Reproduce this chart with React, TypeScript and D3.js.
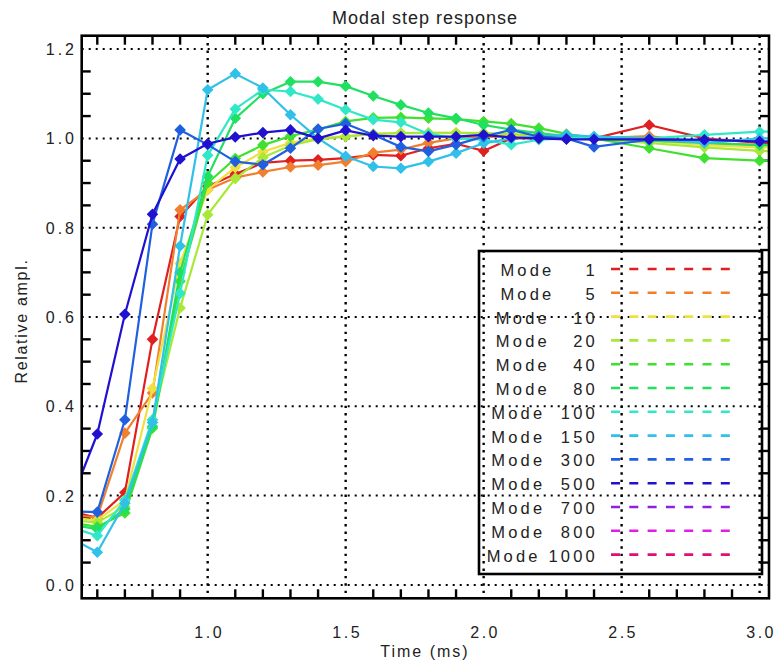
import React from "react";
import * as d3 from "d3";

// ---------- data ----------
const times = [0.5, 0.6, 0.7, 0.8, 0.9, 1.0, 1.1, 1.2, 1.3, 1.4, 1.5, 1.6, 1.7, 1.8, 1.9, 2.0, 2.1, 2.2, 2.3, 2.4, 2.6, 2.8, 3.0, 3.2];

const modeNames = [1, 5, 10, 20, 40, 80, 100, 150, 300, 500, 700, 800, 1000];
const modeColors = ["#e02020", "#f08030", "#f0e040", "#a8e838", "#40e030", "#20e060", "#30e8c8", "#30c0e8", "#2060e0", "#2010d0", "#9020e0", "#e020e0", "#e01070"];

const mode1 = [0.165, 0.15, 0.207, 0.55, 0.825, 0.892, 0.92, 0.945, 0.95, 0.952, 0.956, 0.963, 0.961, 0.978, 0.988, 0.972, 1.0, 1.0, 1.002, 1.0, 1.03, 1.0, 0.99, 0.99];
const mode5 = [0.155, 0.152, 0.34, 0.43, 0.84, 0.885, 0.912, 0.925, 0.936, 0.94, 0.948, 0.968, 0.975, 0.99, 1.0, 1.003, 1.005, 1.005, 1.0, 1.0, 1.005, 0.99, 0.985, 0.985];
const mode10 = [0.15, 0.145, 0.19, 0.44, 0.72, 0.885, 0.935, 0.97, 0.99, 1.0, 1.005, 1.01, 1.012, 1.013, 1.013, 1.012, 1.008, 1.005, 1.0, 1.0, 0.995, 0.985, 0.98, 0.98];
const mode20 = [0.145, 0.14, 0.175, 0.37, 0.62, 0.829, 0.91, 0.957, 0.984, 0.998, 1.004, 1.01, 1.012, 1.012, 1.012, 1.012, 1.01, 1.005, 1.0, 0.998, 0.99, 0.98, 0.972, 0.97];
const mode40 = [0.14, 0.13, 0.161, 0.351, 0.68, 0.9, 0.955, 0.985, 1.005, 1.02, 1.038, 1.046, 1.047, 1.045, 1.043, 1.038, 1.033, 1.023, 1.01, 1.0, 0.978, 0.956, 0.95, 0.948];
const mode80 = [0.135, 0.125, 0.17, 0.355, 0.7, 0.915, 1.045, 1.1, 1.127, 1.127, 1.117, 1.095, 1.075, 1.057, 1.045, 1.03, 1.02, 1.012, 1.005, 1.0, 0.995, 0.99, 0.985, 0.985];
const mode100 = [0.13, 0.11, 0.19, 0.37, 0.653, 0.962, 1.066, 1.109, 1.105, 1.088, 1.064, 1.042, 1.036, 1.01, 1.0, 0.997, 0.986, 0.997, 1.0, 1.004, 1.0, 1.008, 1.015, 1.015];
const mode150 = [0.106, 0.073, 0.183, 0.364, 0.759, 1.109, 1.145, 1.113, 1.053, 1.0, 0.96, 0.937, 0.933, 0.948, 0.967, 0.989, 1.0, 1.004, 1.008, 1.004, 1.0, 0.99, 1.0, 1.0];
const mode300 = [0.165, 0.163, 0.37, 0.808, 1.019, 0.986, 0.948, 0.941, 0.978, 1.021, 1.033, 1.008, 0.981, 0.971, 0.986, 1.004, 1.019, 1.004, 1.0, 0.981, 0.997, 0.997, 0.993, 0.993];
const mode500 = [0.18, 0.338, 0.606, 0.83, 0.954, 0.988, 1.003, 1.013, 1.019, 1.0, 1.018, 1.006, 1.004, 1.004, 1.004, 1.008, 1.002, 1.0, 0.998, 0.998, 0.998, 0.997, 0.993, 0.993];

const plottedSeries = [mode1, mode5, mode10, mode20, mode40, mode80, mode100, mode150, mode300, mode500];

const xGridTicks = [1.0, 1.5, 2.0, 2.5, 3.0];
const yGridTicks = [0.0, 0.2, 0.4, 0.6, 0.8, 1.0, 1.2];

const title = "Modal step response";
const xTitle = "Time (ms)";
const yTitle = "Relative ampl.";

// ---------- layout ----------
const W = 777;
const H = 664;
const L = 81.7, R = 769, T = 35.7, B = 598.3;
const FONT = "'Liberation Sans', Arial, Helvetica, sans-serif";

export default function App() {
  const x = d3.scaleLinear().domain([0.5435, 3.034]).range([L, R]);
  const y = d3.scaleLinear().domain([-0.03, 1.23]).range([B, T]);

  const line = d3
    .line<number>()
    .x((_, i) => x(times[i]))
    .y((v) => y(v));

  const xMinor = d3.range(6, 31).map((v) => v / 10).filter((v) => Math.abs(v * 2 - Math.round(v * 2)) > 1e-6);
  const yMinor = d3.range(1, 25).map((v) => v * 0.05).filter((v) => Math.abs(v * 5 - Math.round(v * 5)) > 1e-6);
  const tickLen = 9;

  const diamond = (cx: number, cy: number, r: number) =>
    `M${cx},${cy - r}L${cx + r},${cy}L${cx},${cy + r}L${cx - r},${cy}Z`;

  // legend
  const lgX0 = 479, lgY0 = 251, lgX1 = 762, lgY1 = 574;
  const rowY0 = 270, rowStep = 23.8;
  const pad5 = (n: number) => String(n).padStart(5, " ");

  return (
    <svg
      width={W}
      height={H}
      style={{ position: "absolute", left: 0, top: 0, background: "#fff" }}
      fontFamily={FONT}
    >
      <defs>
        <clipPath id="plotClip">
          <rect x={L} y={T} width={R - L} height={B - T} />
        </clipPath>
      </defs>
      <rect x={0} y={0} width={W} height={H} fill="#fff" />

      {/* title */}
      <text x={425} y={24} textAnchor="middle" fontSize={18} letterSpacing={1} fill="#222">
        {title}
      </text>

      {/* grid */}
      {yGridTicks.map((v) => (
        <line key={"gy" + v} x1={L} x2={R} y1={y(v)} y2={y(v)} stroke="#000" strokeWidth={2} strokeDasharray="2,5" />
      ))}
      {xGridTicks.map((v) => (
        <line key={"gx" + v} x1={x(v)} x2={x(v)} y1={T} y2={B} stroke="#000" strokeWidth={2.4} strokeDasharray="2.4,5" />
      ))}

      {/* minor ticks */}
      {xMinor.map((v) => (
        <g key={"mx" + v}>
          <line x1={x(v)} x2={x(v)} y1={B} y2={B - tickLen} stroke="#000" strokeWidth={2.4} />
          <line x1={x(v)} x2={x(v)} y1={T} y2={T + tickLen} stroke="#000" strokeWidth={2.4} />
        </g>
      ))}
      {yMinor.map((v) => (
        <g key={"my" + v}>
          <line x1={L} x2={L + tickLen} y1={y(v)} y2={y(v)} stroke="#000" strokeWidth={2.4} />
          <line x1={R} x2={R - tickLen} y1={y(v)} y2={y(v)} stroke="#000" strokeWidth={2.4} />
        </g>
      ))}

      {/* series */}
      <g clipPath="url(#plotClip)">
        {plottedSeries.map((s, k) => (
          <g key={"s" + k}>
            <path d={line(s) || ""} fill="none" stroke={modeColors[k]} strokeWidth={2.2} strokeLinejoin="round" />
            {s.map((v, i) => (
              <path key={i} d={diamond(x(times[i]), y(v), 5.8)} fill={modeColors[k]} />
            ))}
          </g>
        ))}
      </g>

      {/* frame */}
      <rect x={L} y={T} width={R - L} height={B - T} fill="none" stroke="#000" strokeWidth={2.6} />

      {/* tick labels */}
      {yGridTicks.map((v) => (
        <text key={"ty" + v} x={77} y={y(v) + 6} textAnchor="end" fontSize={16} letterSpacing={3} fill="#222">
          {v.toFixed(1)}
        </text>
      ))}
      {xGridTicks.map((v) => (
        <text key={"tx" + v} x={x(v) + 1.5} y={638} textAnchor="middle" fontSize={16} letterSpacing={2.5} fill="#222">
          {v.toFixed(1)}
        </text>
      ))}

      {/* axis titles */}
      <text x={425} y={657} textAnchor="middle" fontSize={16} letterSpacing={2} fill="#222">
        {xTitle}
      </text>
      <text
        transform={`translate(27,321) rotate(-90)`}
        textAnchor="middle"
        fontSize={16}
        letterSpacing={1.7}
        fill="#222"
      >
        {yTitle}
      </text>

      {/* legend */}
      <rect x={lgX0} y={lgY0} width={lgX1 - lgX0} height={lgY1 - lgY0} fill="none" stroke="#000" strokeWidth={2.6} />
      {modeNames.map((m, i) => {
        const cy = rowY0 + i * rowStep;
        return (
          <g key={"lg" + m}>
            <text x={598} y={cy + 6} textAnchor="end" fontSize={16.5} letterSpacing={3.2} fill="#222" style={{ whiteSpace: "pre" }}>
              {"Mode" + pad5(m)}
            </text>
            <line x1={611} x2={732} y1={cy - 1} y2={cy - 1} stroke={modeColors[i]} strokeWidth={2.6} strokeDasharray="9,9.3" />
          </g>
        );
      })}
    </svg>
  );
}
